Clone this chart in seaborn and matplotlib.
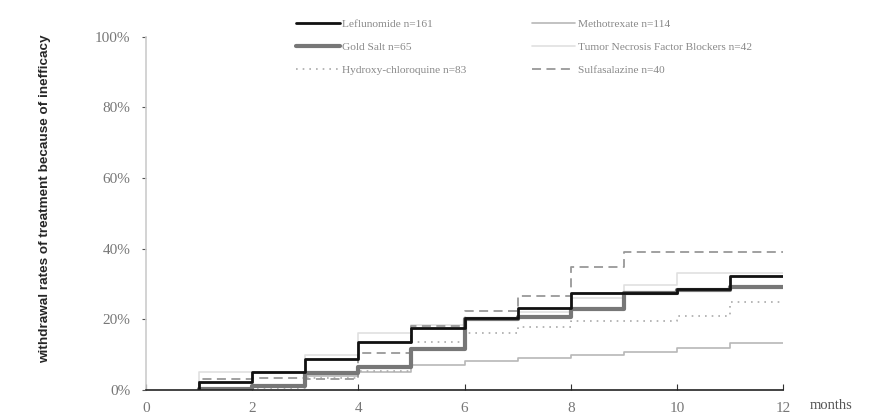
import numpy as np
import pandas as pd
import seaborn as sns
import matplotlib.pyplot as plt

# withdrawal rates (%) per month, step values from month 1 to 12
months = [1, 2, 3, 4, 5, 6, 7, 8, 9, 10, 11, 12]
leflunomide = [2.3, 5.0, 8.8, 13.6, 17.6, 20.4, 23.2, 27.5, 27.5, 28.6, 32.3, 32.3]
gold_salt = [0.3, 1.2, 4.8, 6.5, 11.6, 20.0, 20.7, 23.0, 27.5, 28.3, 29.2, 29.2]
hydroxy = [0.5, 0.6, 3.5, 5.4, 13.6, 16.0, 17.8, 19.5, 19.5, 21.0, 25.0, 25.0]
methotrexate = [0.5, 1.0, 4.0, 5.0, 7.0, 8.2, 9.0, 10.0, 10.8, 12.0, 13.3, 13.3]
tnf = [5.0, 5.0, 10.0, 16.0, 18.5, 20.0, 22.0, 26.0, 29.7, 33.0, 33.0, 33.0]
sulfa = [3.0, 3.3, 3.0, 10.5, 18.0, 22.5, 26.7, 34.8, 39.0, 39.0, 39.0, 39.0]

labels = ["Leflunomide n=161", "Gold Salt n=65", "Hydroxy-chloroquine n=83",
          "Methotrexate n=114", "Tumor Necrosis Factor Blockers n=42", "Sulfasalazine n=40"]
series = [leflunomide, gold_salt, hydroxy, methotrexate, tnf, sulfa]

# long table, each series starts from 0 at month 1
rows = []
for lab, vals in zip(labels, series):
    rows.append((lab, months[0], 0.0))
    for m, v in zip(months, vals):
        rows.append((lab, m, v))
df = pd.DataFrame(rows, columns=["drug", "month", "rate"])

styles = {
    "Leflunomide n=161": dict(color="#111111", lw=2.0, ls="-"),
    "Gold Salt n=65": dict(color="#777777", lw=3.0, ls="-"),
    "Hydroxy-chloroquine n=83": dict(color="#aaaaaa", lw=1.2, ls=(0, (1, 3))),
    "Methotrexate n=114": dict(color="#b8b8b8", lw=1.2, ls="-"),
    "Tumor Necrosis Factor Blockers n=42": dict(color="#e0e0e0", lw=1.2, ls="-"),
    "Sulfasalazine n=40": dict(color="#999999", lw=1.3, ls=(0, (5, 3))),
}

sns.set_style("white")
fig = plt.figure(figsize=(8.79, 4.18), dpi=100)
ax = fig.add_axes([0.166, 0.067, 0.725, 0.845])

# draw light ones first, dark on top
order = [labels[4], labels[3], labels[2], labels[5], labels[1], labels[0]]
for lab in order:
    st = styles[lab]
    sns.lineplot(data=df[df.drug == lab], x="month", y="rate", ax=ax,
                 estimator=None, sort=False, drawstyle="steps-post",
                 color=st["color"], linewidth=st["lw"], linestyle=st["ls"], label=lab)

ax.set_xlim(0, 12)
ax.set_ylim(0, 100)
ax.set_xticks(range(0, 13, 2))
ax.set_yticks(range(0, 101, 20))
ax.set_yticklabels([f"{v}%" for v in range(0, 101, 20)])
serif = "Liberation Serif"
for t in ax.get_xticklabels() + ax.get_yticklabels():
    t.set_family(serif)
    t.set_color("#777777")
    t.set_fontsize(11)
ax.tick_params(axis="x", direction="in", length=4, color="#333333", pad=9)
ax.tick_params(axis="y", direction="out", length=3, color="#555555", pad=8)
ax.tick_params(left=True, bottom=True)

for s in ["top", "right"]:
    ax.spines[s].set_visible(False)
ax.spines["left"].set_color("#cccccc")
ax.spines["left"].set_linewidth(1.2)
ax.spines["bottom"].set_color("#222222")
ax.spines["bottom"].set_linewidth(1.2)

ax.set_xlabel("")
ax.set_ylabel("withdrawal rates of treatment because of inefficacy",
              fontsize=9.7, fontweight="bold", family="Liberation Sans")
ax.yaxis.set_label_coords(-0.149, 0.542)
fig.text(0.945, 0.022, "months", family=serif, color="#555555", fontsize=10.5, ha="center")

h, l = ax.get_legend_handles_labels()
hmap = dict(zip(l, h))
leg = ax.legend([hmap[x] for x in labels], labels, ncol=2, loc="upper left",
                bbox_to_anchor=(0.22, 1.078), frameon=False,
                handlelength=3.8, handletextpad=0.25, columnspacing=5.7,
                labelspacing=1.12, prop={"family": serif, "size": 8.2})
for t in leg.get_texts():
    t.set_color("#888888")

fig.savefig("out.png", dpi=100)
